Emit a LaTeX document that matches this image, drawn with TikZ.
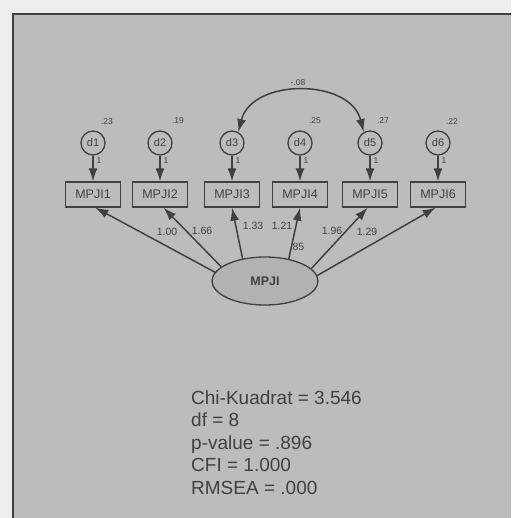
\documentclass[tikz,border=0pt]{standalone}
\usepackage{fontspec}
\setmainfont{Liberation Sans}
\usetikzlibrary{arrows.meta,shapes.geometric}
\definecolor{outerbg}{HTML}{EEEEEE}
\definecolor{panel}{HTML}{BCBCBC}
\definecolor{ink}{HTML}{404040}
\definecolor{efill}{HTML}{B2B2B2}
\tikzset{
  obs/.style={draw=ink,line width=1.3pt,fill=panel,minimum width=55pt,minimum height=25pt,inner sep=0pt,font=\fontsize{12.5}{13}\selectfont,text=ink},
  err/.style={circle,draw=ink,line width=1.3pt,fill=panel,minimum size=24pt,inner sep=0pt,font=\fontsize{11}{12}\selectfont,text=ink},
  lat/.style={ellipse,draw=ink,line width=1.3pt,fill=efill,minimum width=106pt,minimum height=48pt,inner sep=0pt,font=\bfseries\fontsize{12.5}{13}\selectfont,text=ink},
  conn/.style={draw=ink,line width=1.5pt,-{Latex[length=13pt,width=9pt]}},
  small/.style={font=\fontsize{8.5}{9}\selectfont,text=ink,inner sep=0pt},
  load/.style={font=\fontsize{10.5}{11}\selectfont,text=ink,inner sep=0pt},
  fitline/.style={font=\fontsize{19}{22}\selectfont,text=ink,inner sep=0pt,anchor=base west}
}
\begin{document}
\begin{tikzpicture}[x=1pt,y=-1pt]
\useasboundingbox (0,0) rectangle (511,518);
\fill[outerbg] (0,0) rectangle (511,518);
\fill[panel] (13,14) rectangle (511,518);
\draw[ink,line width=2pt] (13,518) -- (13,14) -- (511,14);
% error terms and indicators
\foreach \i/\x in {1/93,2/160,3/232,4/300,5/370,6/438}{
  \node[err] (d\i) at (\x,143) {d\i};
  \node[obs] (m\i) at (\x,194.5) {MPJI\i};
  \draw[conn] (d\i) -- (m\i);
  \node[small] (one\i) at (\x+6,161) {1};
}
\node[small] (v1) at (107,122) {.23};
\node[small] (v2) at (178,121) {.19};
\node[small] (v4) at (315,121) {.25};
\node[small] (v5) at (383,121) {.27};
\node[small] (v6) at (452,122) {.22};
% latent
\node[lat] (L) at (265,281) {MPJI};
\draw[conn] (L.170) -- (m1.-80);
\draw[conn] (L.162) -- (m2.-75);
\draw[conn] (L.135) -- (m3.-90);
\draw[conn] (L.43) -- (m4.-90);
\draw[conn] (L.15) -- (m5.-100);
\draw[conn] (L.6) -- (m6.-100);
\node[load] (l1) at (167,232) {1.00};
\node[load] (l2) at (202,231) {1.66};
\node[load] (l3) at (253,226) {1.33};
\node[load] (l4) at (282,226) {1.21};
\node[load] (l5) at (297,247) {.85};
\node[load] (l6) at (332,231) {1.96};
\node[load] (l7) at (367,232) {1.29};
% covariance
\draw[draw=ink,line width=1.5pt,{Latex[length=13pt,width=9pt]}-{Latex[length=13pt,width=9pt]}] (d3.60) .. controls (252,78) and (350,78) .. (d5.120);
\node[small] (cov) at (298,83) {-.08};
% fit indices
\node[fitline] (t1) at (191,404) {Chi-Kuadrat = 3.546};
\node[fitline] (t2) at (191,426.5) {df = 8};
\node[fitline] (t3) at (191,449) {p-value = .896};
\node[fitline] (t4) at (191,471.5) {CFI = 1.000};
\node[fitline] (t5) at (191,494) {RMSEA = .000};
\end{tikzpicture}
\end{document}
